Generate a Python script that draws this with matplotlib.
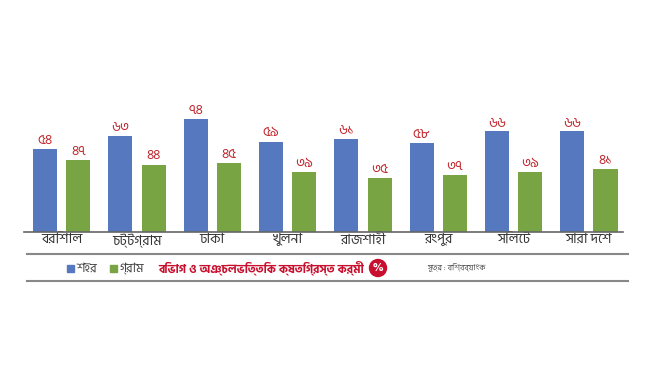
import matplotlib
matplotlib.use('Agg')
import matplotlib.pyplot as plt
from matplotlib import font_manager
from matplotlib.patches import Rectangle, Ellipse
import numpy as np

# Datos
bibhag = ['বরিশাল', 'চট্টগ্রাম', 'ঢাকা', 'খুলনা', 'রাজশাহী', 'রংপুর', 'সিলেট', 'সারা দেশ']
shohor = [54, 63, 74, 59, 61, 58, 66, 66]
gram = [47, 44, 45, 39, 35, 37, 39, 41]
series_names = ['শহর', 'গ্রাম']
title = 'বিভাগ ও অঞ্চলভিত্তিক ক্ষতিগ্রস্ত কর্মী'
source = 'সূত্র : বিশ্বব্যাংক'

BN_DIGITS = str.maketrans('0123456789', '০১২৩৪৫৬৭৮৯')

# fuente bengalí: preferir Hind Siliguri / Noto Sans Bengali
preferidas = ['HindSiliguri-Regular', 'HindSiliguri-Bold', 'NotoSansBengali']
rutas = font_manager.findSystemFonts()
bn_font = None
for pref in preferidas:
    for path in rutas:
        if pref in path:
            font_manager.fontManager.addfont(path)
            if bn_font is None:
                bn_font = font_manager.FontProperties(fname=path).get_name()
fams = [bn_font, 'DejaVu Sans'] if bn_font else ['DejaVu Sans']
plt.rcParams['font.family'] = fams

azul = '#5578bf'
verde = '#78a443'
rojo = '#c0272d'

fig = plt.figure(figsize=(6.5, 3.65), dpi=100)
ax = fig.add_axes([0.037, 0.365, 0.921, 0.535])

x = np.arange(len(bibhag))
w = 0.32
ax.bar(x - 0.221, shohor, w, color=azul)
ax.bar(x + 0.222, gram, w, color=verde)

for i in range(len(bibhag)):
    ax.text(x[i] - 0.221, shohor[i] + 1.5, str(shohor[i]).translate(BN_DIGITS),
            ha='center', va='bottom', color=rojo, fontsize=10)
    ax.text(x[i] + 0.222, gram[i] + 1.5, str(gram[i]).translate(BN_DIGITS),
            ha='center', va='bottom', color=rojo, fontsize=10)

ax.set_xlim(-0.5, 7.45)
ax.set_ylim(0, 128)
ax.set_xticks(x)
ax.set_xticklabels(bibhag, fontsize=10, color='#333333')
ax.tick_params(axis='x', length=0, pad=1)
ax.set_yticks([])
for s in ['top', 'right', 'left']:
    ax.spines[s].set_visible(False)
ax.spines['bottom'].set_color('#666666')
ax.spines['bottom'].set_linewidth(1.2)

# líneas y leyenda inferior
fig.add_artist(plt.Line2D([0.042, 0.966], [1 - 253.5 / 365] * 2, color='#888888', lw=1.5))
fig.add_artist(plt.Line2D([0.042, 0.966], [1 - 280.5 / 365] * 2, color='#888888', lw=1.5))

ly = 1 - 268 / 365
fig.add_artist(Rectangle((67 / 650, ly - 0.011), 7 / 650, 7 / 365, color=azul))
fig.text(76 / 650, ly, series_names[0], va='center', fontsize=9, color='#444444')
fig.add_artist(Rectangle((110 / 650, ly - 0.011), 7 / 650, 7 / 365, color=verde))
fig.text(119 / 650, ly, series_names[1], va='center', fontsize=9, color='#444444')

fig.text(364 / 650, ly, title, ha='right', va='center', fontsize=8.5,
         fontweight='bold', color='#c8102e')
fig.add_artist(Ellipse((378 / 650, ly), 17 / 650, 17 / 365,
                       transform=fig.transFigure, color='#c8102e'))
fig.text(378 / 650, ly, '%', ha='center', va='center', fontsize=7.5,
         fontweight='bold', color='white', family='DejaVu Sans')
fig.text(456 / 650, ly, source, ha='center', va='center', fontsize=6, color='#555555')

plt.savefig('out.png', dpi=100)
